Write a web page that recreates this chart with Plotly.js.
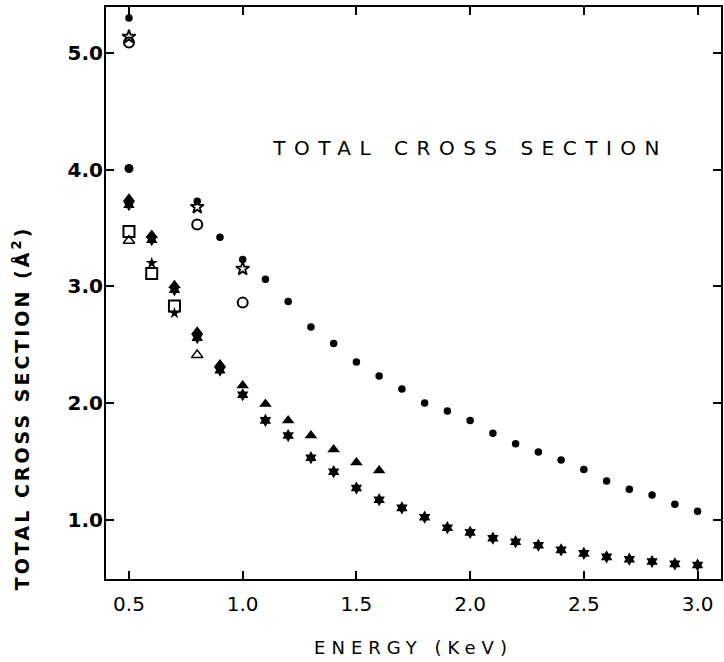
<!DOCTYPE html>
<html>
<head>
<meta charset="utf-8">
<script src="https://cdn.plot.ly/plotly-3.0.1.min.js"></script>
<style>
  html, body { margin: 0; padding: 0; background: #fff; }
  #chart { width: 724px; height: 662px; }
</style>
</head>
<body>
<div id="chart"></div>
<script>
// ---- Data ----
const dotEnergy = [0.5, 0.8, 0.9, 1.0, 1.1, 1.2, 1.3, 1.4, 1.5, 1.6, 1.7, 1.8, 1.9, 2.0, 2.1, 2.2, 2.3, 2.4, 2.5, 2.6, 2.7, 2.8, 2.9, 3.0];
const dotSigma  = [5.30, 3.73, 3.42, 3.23, 3.06, 2.87, 2.65, 2.51, 2.35, 2.23, 2.12, 2.00, 1.93, 1.85, 1.74, 1.65, 1.58, 1.51, 1.43, 1.33, 1.26, 1.21, 1.13, 1.07];

const starEnergy = [0.5, 0.6, 0.7, 0.8, 0.9, 1.0, 1.1, 1.2, 1.3, 1.4, 1.5, 1.6, 1.7, 1.8, 1.9, 2.0, 2.1, 2.2, 2.3, 2.4, 2.5, 2.6, 2.7, 2.8, 2.9, 3.0];
const starSigma  = [3.70, 3.40, 2.97, 2.56, 2.28, 2.07, 1.85, 1.72, 1.53, 1.41, 1.27, 1.17, 1.10, 1.02, 0.93, 0.89, 0.84, 0.81, 0.78, 0.74, 0.71, 0.68, 0.66, 0.64, 0.62, 0.61];

const triEnergy = [0.5, 0.6, 0.7, 0.8, 0.9, 1.0, 1.1, 1.2, 1.3, 1.4, 1.5, 1.6];
const triSigma  = [3.75, 3.44, 3.01, 2.61, 2.33, 2.15, 1.99, 1.85, 1.72, 1.60, 1.49, 1.42];

const openCircEnergy = [0.5, 0.8, 1.0];
const openCircSigma  = [5.09, 3.53, 2.86];

const openSqEnergy = [0.5, 0.6, 0.7];
const openSqSigma  = [3.47, 3.11, 2.83];

const openTriEnergy = [0.5, 0.8];
const openTriSigma  = [3.39, 2.41];

const smallStarEnergy = [0.6, 0.7];
const smallStarSigma  = [3.20, 2.77];

const openStarEnergy = [0.5, 0.8, 1.0];
const openStarSigma  = [5.14, 3.68, 3.15];

const bigDotEnergy = [0.5];
const bigDotSigma  = [4.01];

const xTicks = [0.5, 1.0, 1.5, 2.0, 2.5, 3.0];
const xTickText = ['0.5', '1.0', '1.5', '2.0', '2.5', '3.0'];
const yTicks = [1.0, 2.0, 3.0, 4.0, 5.0];
const yTickText = ['1.0', '2.0', '3.0', '4.0', '5.0'];

// ---- Traces ----
function pts(x, y, symbol, size, lineWidth) {
  return {
    x: x, y: y, type: 'scatter', mode: 'markers', hoverinfo: 'skip',
    marker: { symbol: symbol, size: size, color: '#000', line: { color: '#000', width: lineWidth || 0 } }
  };
}

const traces = [
  pts(dotEnergy, dotSigma, 'circle', 7.5),
  pts(starEnergy, starSigma, 'hexagram', 10),
  pts(triEnergy, triSigma, 'triangle-up', 11),
  pts(openCircEnergy, openCircSigma, 'circle-open', 10, 2),
  pts(openSqEnergy, openSqSigma, 'square-open', 11, 2),
  pts(openTriEnergy, openTriSigma, 'triangle-up-open', 10, 1.5),
  pts(smallStarEnergy, smallStarSigma, 'star', 9),
  pts(openStarEnergy, openStarSigma, 'star-open', 10, 1.8),
  pts(bigDotEnergy, bigDotSigma, 'circle', 9)
];

const layout = {
  width: 724, height: 662,
  margin: { l: 106, r: 3, t: 7, b: 83 },
  paper_bgcolor: '#fff', plot_bgcolor: '#fff',
  showlegend: false,
  font: { family: 'DejaVu Sans, sans-serif', color: '#000' },
  xaxis: {
    range: [0.399, 3.103],
    tickvals: xTicks, ticktext: xTickText,
    ticks: 'inside', ticklen: 8, tickwidth: 2, tickcolor: '#000',
    showline: true, linecolor: '#000', linewidth: 2, mirror: 'ticks',
    showgrid: false, zeroline: false,
    tickfont: { family: 'DejaVu Sans, sans-serif', size: 20, color: '#000' },
    ticklabelstandoff: 6,
    title: { text: 'ENERGY (KeV)', font: { family: 'DejaVu Sans, sans-serif', size: 18, color: '#000' }, standoff: 26 }
  },
  yaxis: {
    range: [0.49, 5.395],
    tickvals: yTicks, ticktext: yTickText,
    ticks: 'inside', ticklen: 8, tickwidth: 2, tickcolor: '#000',
    showline: true, linecolor: '#000', linewidth: 2, mirror: 'ticks',
    showgrid: false, zeroline: false,
    tickfont: { family: 'DejaVu Sans, sans-serif', size: 20, color: '#000', weight: 'bold' },
    ticklabelstandoff: -3
  },
  annotations: [{
    text: 'TOTAL CROSS SECTION',
    xref: 'paper', yref: 'paper', x: 0.592, y: 0.753,
    xanchor: 'center', yanchor: 'middle', showarrow: false,
    font: { family: 'DejaVu Sans, sans-serif', size: 20, color: '#000' }
  }, {
    text: 'TOTAL CROSS SECTION (Å<sup>2</sup>)',
    xref: 'paper', yref: 'paper', x: -0.137, y: 0.30,
    xanchor: 'center', yanchor: 'middle', showarrow: false, textangle: -90,
    font: { family: 'DejaVu Sans, sans-serif', size: 19, color: '#000', weight: 'bold' }
  }]
};

Plotly.newPlot('chart', traces, layout, { displayModeBar: false, staticPlot: true }).then(function () {
  const ann = document.querySelectorAll('.annotation-text');
  if (ann[0]) ann[0].style.letterSpacing = '8.5px';
  if (ann[1]) ann[1].style.letterSpacing = '3px';
  document.querySelectorAll('.xtitle').forEach(function (el) { el.style.letterSpacing = '6px'; });
});
</script>
</body>
</html>
